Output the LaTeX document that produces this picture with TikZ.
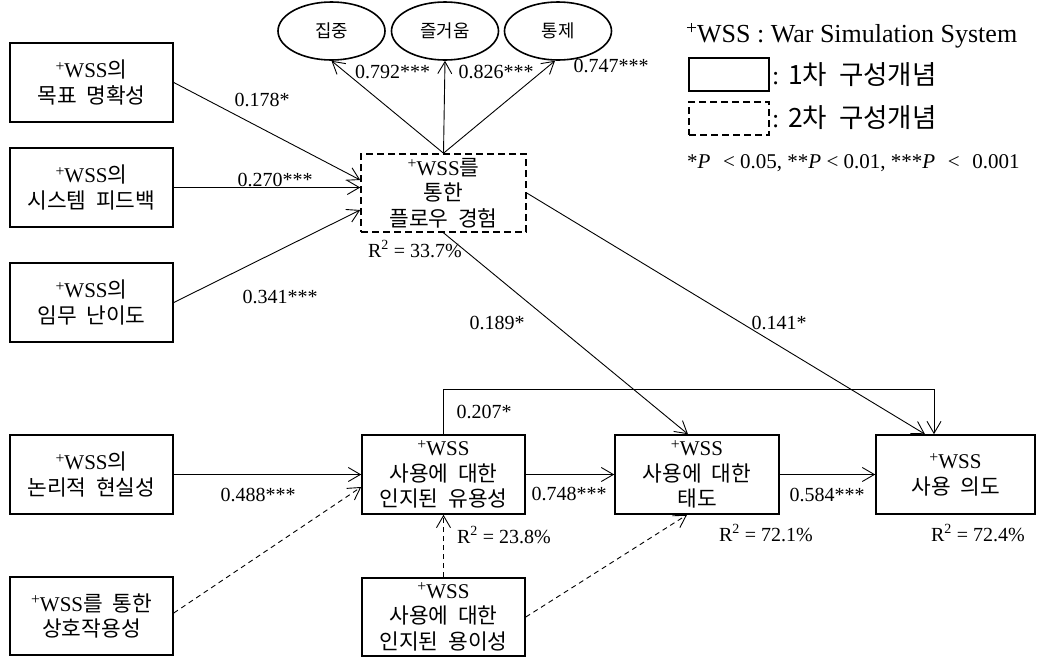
\documentclass[tikz,border=0pt]{standalone}
\usepackage{fontspec}
\usepackage{graphicx}
\setmainfont{Liberation Serif}
\newfontfamily\kr[Scale=1.02,WordSpace=2]{Noto Sans CJK KR}
\usetikzlibrary{arrows.meta,calc,shapes.geometric}

% small raised plus used before "WSS"
\newcommand{\plus}{\raisebox{0.3em}{\scalebox{0.75}{+}}}
\newcommand{\wss}{\plus WSS}

\begin{document}
\begin{tikzpicture}[x=1pt,y=-1pt,
  box/.style={draw, line width=1.6pt, minimum width=163pt, minimum height=79pt,
    inner sep=0pt, align=center, font=\fontsize{21}{25.5}\selectfont},
  dbox/.style={box, dash pattern=on 7pt off 4pt},
  lat/.style={draw, ellipse, line width=1.6pt, minimum width=107pt, minimum height=58pt,
    inner sep=0pt, font=\kr\fontsize{17.5}{20}\selectfont},
  link/.style={-{Straight Barb[length=12pt,width=14pt]}, line width=0.9pt},
  dlink/.style={link, dash pattern=on 5pt off 4pt},
  coef/.style={inner sep=0pt, font=\fontsize{20}{24}\selectfont},
]
\useasboundingbox (0,0) rectangle (1037,657);

% antecedents
\node[box] (goal) at (91.5,82.5) {\wss{\kr 의}\\{\kr 목표 명확성}};
\node[box] (feed) at (91.5,187.5) {\wss{\kr 의}\\{\kr 시스템 피드백}};
\node[box] (task) at (91.5,302.5) {\wss{\kr 의}\\{\kr 임무 난이도}};
\node[box] (real) at (91.5,474.5) {\wss{\kr 의}\\{\kr 논리적 현실성}};
\node[box, minimum height=78pt] (inter) at (91.5,616) {\wss{\kr 를 통한}\\{\kr 상호작용성}};

% second-order flow construct and its indicators
\node[dbox, minimum width=165pt, minimum height=78pt] (flow) at (443.5,193)
  {\wss{\kr 를}\\{\kr 통한}\\{\kr 플로우 경험}};
\node[lat] (conc) at (331.5,31) {집중};
\node[lat] (enjoy) at (445,31) {즐거움};
\node[lat] (ctrl) at (558,31) {통제};

% TAM constructs
\node[box] (useful) at (443.5,474.5) {\wss\\{\kr 사용에 대한}\\{\kr 인지된 유용성}};
\node[box, minimum width=164pt] (att) at (697,474.5) {\wss\\{\kr 사용에 대한}\\{\kr 태도}};
\node[box, minimum width=159pt] (intent) at (955.5,474.5) {\wss\\{\kr 사용 의도}};
\node[box, minimum height=78pt] (ease) at (443.5,617) {\wss\\{\kr 사용에 대한}\\{\kr 인지된 용이성}};

% paths
\draw[link] (goal.east) -- ($(flow.west)+(0,-13)$);
\draw[link] (feed.east) -- (feed.east -| flow.west);
\draw[link] (task.east) -- ($(flow.west)+(0,17)$);
\draw[link] (flow.north) -- (conc.south);
\draw[link] (flow.north) -- (enjoy.south);
\draw[link] (flow.north) -- ($(ctrl.south)+(-3,0)$);
\draw[link] (flow.south) -- ($(att.north)+(-9,0)$);
\draw[link] (flow.east) -- ($(intent.north)+(-30.5,0)$);
\draw[link] (useful.north) -- ++(0,-45) -| ($(intent.north)+(-21.5,0)$);
\draw[link] (real.east) -- (useful.west);
\draw[dlink] ($(inter.east)+(0,-3)$) -- ($(useful.west)+(0,12.5)$);
\draw[dlink] (ease.north) -- (useful.south);
\draw[dlink] (ease.east) -- ($(att.south)+(-10,0)$);
\draw[link] (useful.east) -- (att.west);
\draw[link] (att.east) -- (intent.west);

% coefficients
\node[coef] (k1) at (262,100) {0.178*};
\node[coef] (k2) at (275,180) {0.270***};
\node[coef] (k3) at (280,297) {0.341***};
\node[coef] (k4) at (392.5,72) {0.792***};
\node[coef] (k5) at (496,72) {0.826***};
\node[coef] (k6) at (611,66) {0.747***};
\node[coef] (r1) at (415,249) {R\textsuperscript{2} = 33.7\%};
\node[coef] (k7) at (497,323) {0.189*};
\node[coef] (k8) at (779,323) {0.141*};
\node[coef] (k9) at (484,412) {0.207*};
\node[coef] (k10) at (258,495) {0.488***};
\node[coef] (k11) at (569,494) {0.748***};
\node[coef] (k12) at (827,495) {0.584***};
\node[coef] (r2) at (504,535) {R\textsuperscript{2} = 23.8\%};
\node[coef] (r3) at (766,533) {R\textsuperscript{2} = 72.1\%};
\node[coef] (r4) at (978,533) {R\textsuperscript{2} = 72.4\%};

% legend
\node[inner sep=0pt, anchor=west, font=\fontsize{26}{30}\selectfont] (lt) at (686,36)
  {\plus WSS : War Simulation System};
\node[draw, line width=1.6pt, minimum width=80pt, minimum height=33pt, inner sep=0pt] (ls) at (729,74.5) {};
\node[inner sep=0pt, anchor=west, font=\fontsize{26}{28}\selectfont] (lst) at (772,75) {: {\kr 1차 구성개념}};
\node[draw, line width=1.6pt, dash pattern=on 7pt off 4pt, minimum width=80pt, minimum height=33pt, inner sep=0pt] (ld) at (729,118.5) {};
\node[inner sep=0pt, anchor=west, font=\fontsize{26}{28}\selectfont] (ldt) at (772,118) {: {\kr 2차 구성개념}};
\node[inner sep=0pt, anchor=west, font=\fontsize{21}{24}\selectfont] (lp) at (687,163)
  {*\textit{P}\hspace{0.6em}< 0.05, **\textit{P} < 0.01, ***\textit{P}\hspace{0.6em}<\hspace{0.6em}0.001};
\end{tikzpicture}
\end{document}
